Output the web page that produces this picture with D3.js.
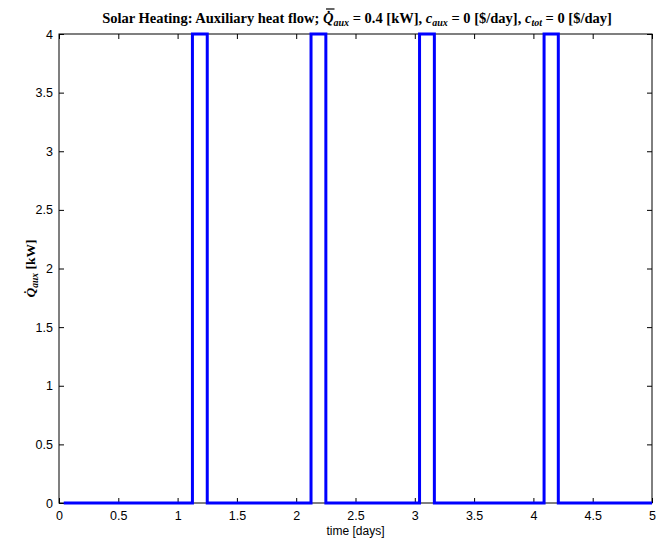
<!DOCTYPE html>
<html><head><meta charset="utf-8">
<script src="https://cdn.jsdelivr.net/npm/d3@7"></script>
<style>body{margin:0;background:#fff}svg{display:block}</style>
</head><body>
<svg id="c" width="665" height="538"></svg>
<script>
// data
const times = [0.04, 1.125, 1.25, 2.125, 2.25, 3.04, 3.165, 4.09, 4.21, 5];
const qaux  = [0,    4,     0,    4,     0,    4,    0,     4,    0,    0];
const xTicks = [0,0.5,1,1.5,2,2.5,3,3.5,4,4.5,5];
const yTicks = [0,0.5,1,1.5,2,2.5,3,3.5,4];

const svg = d3.select("#c");
const L=59, R=652, T=34, B=503;
const x = d3.scaleLinear().domain([0,5]).range([L,R]);
const y = d3.scaleLinear().domain([0,4]).range([B,T]);
const font = "'Liberation Sans', Arial, sans-serif";
const serif = "'Liberation Serif', 'DejaVu Serif', serif";

svg.append("rect").attr("x",0).attr("y",0).attr("width",665).attr("height",538).attr("fill","#fff");

// axes
const fmt = d => String(d);
const gx = svg.append("g").attr("transform",`translate(0,${B})`)
  .call(d3.axisBottom(x).tickValues(xTicks).tickFormat(fmt).tickSizeInner(-5).tickSizeOuter(0).tickPadding(8));
const gxt = svg.append("g").attr("transform",`translate(0,${T})`)
  .call(d3.axisTop(x).tickValues(xTicks).tickFormat("").tickSizeInner(-5).tickSizeOuter(0));
const gy = svg.append("g").attr("transform",`translate(${L},0)`)
  .call(d3.axisLeft(y).tickValues(yTicks).tickFormat(fmt).tickSizeInner(-5).tickSizeOuter(0).tickPadding(6));
const gyr = svg.append("g").attr("transform",`translate(${R},0)`)
  .call(d3.axisRight(y).tickValues(yTicks).tickFormat("").tickSizeInner(-5).tickSizeOuter(0));
[gx,gxt,gy,gyr].forEach(g=>{
  g.selectAll("path").remove();
  g.selectAll("line").attr("stroke","#000").attr("stroke-width",1);
  g.selectAll("text").attr("font-family",font).attr("font-size",12.5).attr("fill","#000");
});
svg.append("rect").attr("x",L).attr("y",T).attr("width",R-L).attr("height",B-T)
  .attr("fill","none").attr("stroke","#000").attr("stroke-width",1);

// line
const pts = times.map((t,i)=>[t,qaux[i]]);
svg.append("path").datum(pts)
  .attr("d", d3.line().x(d=>x(d[0])).y(d=>y(d[1])).curve(d3.curveStepAfter))
  .attr("fill","none").attr("stroke","#0000ff").attr("stroke-width",3).attr("stroke-linejoin","miter");

// x label
svg.append("text").attr("x",(L+R)/2).attr("y",535).attr("text-anchor","middle")
  .attr("font-family",font).attr("font-size",12).text("time [days]");

// y label
const yl = svg.append("text").attr("transform",`translate(35,${(T+B)/2}) rotate(-90)`)
  .attr("text-anchor","middle").attr("font-family",serif).attr("font-size",13.5).attr("font-weight","bold");
yl.append("tspan").attr("font-style","italic").text("Q\u0307");
yl.append("tspan").attr("font-style","italic").attr("font-size",9.5).attr("dy",3).text("aux");
yl.append("tspan").attr("dy",-3).text(" [kW]");

// title
const tt = svg.append("text").attr("x",357).attr("y",23).attr("text-anchor","middle")
  .attr("font-family",serif).attr("font-size",14.5).attr("font-weight","bold");
tt.append("tspan").text("Solar Heating:  Auxiliary heat flow; ");
tt.append("tspan").attr("font-style","italic").text("Q\u0307");
tt.append("tspan").attr("font-style","italic").attr("font-size",10).attr("dy",3).text("aux");
tt.append("tspan").attr("dy",-3).text(" = 0.4 [kW], ");
tt.append("tspan").attr("font-style","italic").text("c");
tt.append("tspan").attr("font-style","italic").attr("font-size",10).attr("dy",3).text("aux");
tt.append("tspan").attr("dy",-3).text(" = 0 [$/day], ");
tt.append("tspan").attr("font-style","italic").text("c");
tt.append("tspan").attr("font-style","italic").attr("font-size",10).attr("dy",3).text("tot");
tt.append("tspan").attr("dy",-3).text(" = 0 [$/day]");
// bar over the dotted Q in the title
const qi = "Solar Heating:  Auxiliary heat flow; ".length;
try {
  const ext = tt.node().getExtentOfChar(qi);
  svg.append("line").attr("x1",ext.x+3).attr("x2",ext.x+ext.width+1)
    .attr("y1",ext.y-1).attr("y2",ext.y-1).attr("stroke","#000").attr("stroke-width",1.2);
} catch(e) {}
</script>
</body></html>
